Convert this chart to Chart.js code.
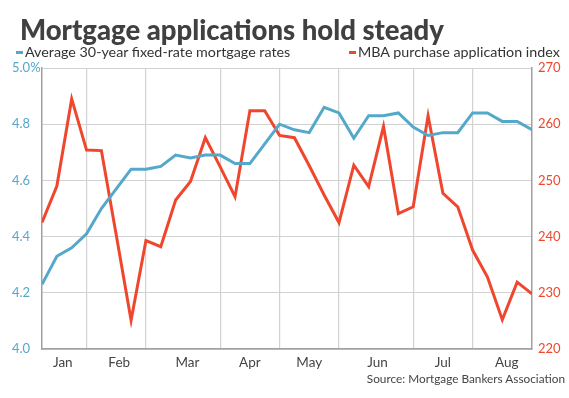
<!DOCTYPE html>
<html>
<head>
<meta charset="utf-8">
<script src="https://cdn.jsdelivr.net/npm/chart.js@4.4.1/dist/chart.umd.min.js"></script>
<style>
  body { margin: 0; background: #fff; font-family: Lato, sans-serif; }
  #wrap { position: relative; width: 569px; height: 398px; overflow: hidden; }
  #chart { position: absolute; left: 0; top: 0; }
  .txt { position: absolute; white-space: nowrap; line-height: 1.2; }
  #title { left: 20px; top: 13px; font-size: 27.5px; font-weight: 900; color: #404040; }
  .leg { top: 43px; font-size: 14.3px; color: #333; }
  .dash { display: inline-block; width: 7px; height: 3px; vertical-align: middle; margin-right: 2px; position: relative; top: -1px; }
  #source { right: 4px; top: 372px; font-size: 11.8px; color: #444; }
</style>
</head>
<body>
<div id="wrap">
  <canvas id="chart" width="569" height="398"></canvas>
  <div id="title" class="txt">Mortgage applications hold steady</div>
  <div class="txt leg" style="left:16px"><span class="dash" style="background:#54a8ca"></span>Average 30-year fixed-rate mortgage rates</div>
  <div class="txt leg" style="left:349px"><span class="dash" style="background:#f0462d"></span>MBA purchase application index</div>
  <div id="source" class="txt">Source: Mortgage Bankers Association</div>
</div>
<script>
// weekly values, Jan - Aug
const rates = [4.23, 4.33, 4.36, 4.41, 4.50, 4.57, 4.64, 4.64, 4.65, 4.69, 4.68, 4.69, 4.69, 4.66, 4.66, 4.73, 4.80,
               4.78, 4.77, 4.86, 4.84, 4.75, 4.83, 4.83, 4.84, 4.79, 4.76, 4.77, 4.77, 4.84, 4.84, 4.81, 4.81, 4.78];
const purchaseIndex = [242.5, 249.0, 264.5, 255.4, 255.3, 240.3, 225.1, 239.3, 238.2, 246.5, 249.8, 257.6, 252.4, 247.1, 262.4, 262.4, 258.0,
                       257.6, 252.6, 247.4, 242.5, 252.7, 248.9, 259.6, 244.1, 245.3, 261.5, 247.7, 245.3, 237.6, 232.8, 225.2, 231.9, 229.8];

// month boundaries (week index) and month label positions
const monthBreaks = [3, 7, 12, 16, 20, 25, 29];
const months = ['Jan', 'Feb', 'Mar', 'Apr', 'May', 'Jun', 'Jul', 'Aug'];
const monthPos = [1.4, 5.2, 9.8, 14, 18, 22.6, 27, 31.3];

const rateTicks = [4.0, 4.2, 4.4, 4.6, 4.8, 5.0];
const indexTicks = [220, 230, 240, 250, 260, 270];

const BLUE = '#54a8ca';
const RED = '#f0462d';
const GRID = '#d2d2d2';
const AXIS = '#a0a0a0';

const ctx = document.getElementById('chart').getContext('2d');
new Chart(ctx, {
    type: 'line',
    data: {
        datasets: [{
            label: 'Average 30-year fixed-rate mortgage rates',
            data: rates.map((v, i) => ({ x: i, y: v })),
            borderColor: BLUE,
            borderWidth: 3,
            pointRadius: 0,
            tension: 0,
            yAxisID: 'y'
        }, {
            label: 'MBA purchase application index',
            data: purchaseIndex.map((v, i) => ({ x: i, y: v })),
            borderColor: RED,
            borderWidth: 3,
            pointRadius: 0,
            tension: 0,
            yAxisID: 'y1'
        }]
    },
    options: {
        responsive: false,
        animation: false,
        layout: { padding: { left: 12, top: 68, right: 0, bottom: 0 } },
        plugins: { legend: { display: false }, title: { display: false }, tooltip: { enabled: false } },
        scales: {
            x: {
                type: 'linear',
                min: 0,
                max: rates.length - 1,
                afterBuildTicks: s => {
                    s.ticks = monthBreaks.concat(monthPos).sort((a, b) => a - b).map(v => ({ value: v }));
                },
                afterFit: s => { s.height = 49; },
                ticks: {
                    autoSkip: false,
                    maxRotation: 0,
                    padding: 6,
                    color: '#444',
                    font: { family: 'Lato', size: 13.5 },
                    callback: v => {
                        const k = monthPos.indexOf(v);
                        return k >= 0 ? months[k] : '';
                    }
                },
                grid: {
                    drawTicks: false,
                    lineWidth: 1.2,
                    color: c => (c.tick && monthBreaks.includes(c.tick.value)) ? GRID : 'rgba(0,0,0,0)'
                },
                border: { color: AXIS, width: 1.5 }
            },
            y: {
                position: 'left',
                min: 4.0,
                max: 5.0,
                afterBuildTicks: s => { s.ticks = rateTicks.map(v => ({ value: v })); },
                afterFit: s => { s.width = 30; },
                ticks: {
                    crossAlign: 'far',
                    color: BLUE,
                    font: { family: 'Lato', size: 13 },
                    callback: v => v === 5 ? '5.0%' : v.toFixed(1)
                },
                grid: { drawTicks: false, color: GRID, lineWidth: 1 },
                border: { color: AXIS, width: 1.5 }
            },
            y1: {
                position: 'right',
                min: 220,
                max: 270,
                afterBuildTicks: s => { s.ticks = indexTicks.map(v => ({ value: v })); },
                afterFit: s => { s.width = 37; },
                ticks: {
                    padding: 6,
                    color: RED,
                    font: { family: 'Lato', size: 13 }
                },
                grid: { display: false, drawTicks: false },
                border: { color: AXIS, width: 1.5 }
            }
        }
    }
});
</script>
</body>
</html>
